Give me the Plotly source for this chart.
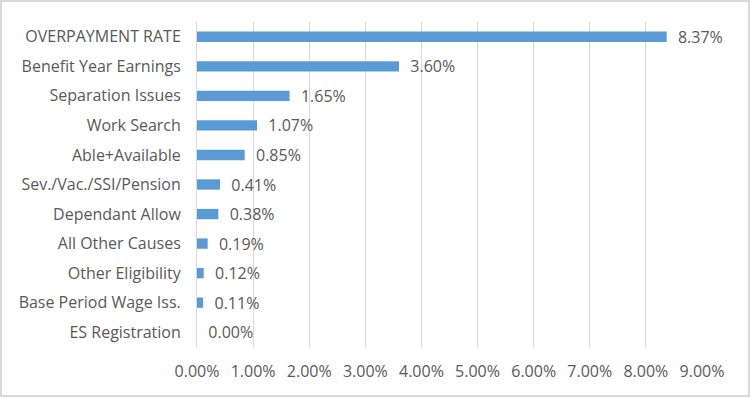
import plotly.graph_objects as go

categories = ["OVERPAYMENT RATE", "Benefit Year Earnings", "Separation Issues", "Work Search",
              "Able+Available", "Sev./Vac./SSI/Pension", "Dependant Allow", "All Other Causes",
              "Other Eligibility", "Base Period Wage Iss.", "ES Registration"]
values = [8.37, 3.60, 1.65, 1.07, 0.85, 0.41, 0.38, 0.19, 0.12, 0.11, 0.00]
tick_vals = [0, 1, 2, 3, 4, 5, 6, 7, 8, 9]
tick_text = ["0.00%", "1.00%", "2.00%", "3.00%", "4.00%", "5.00%", "6.00%", "7.00%", "8.00%", "9.00%"]

FONT = "Open Sans"
GRAY = "#595959"
FS = 16

fig = go.Figure(go.Bar(
    x=values, y=categories, orientation="h",
    marker=dict(color="#5B9BD5", line=dict(width=0)),
    width=0.35,
    text=[f"  {v:.2f}%" for v in values], textposition="outside",
    textfont=dict(family=FONT, size=FS, color=GRAY),
    constraintext="none",
    cliponaxis=False,
))

fig.update_layout(
    width=750, height=397,
    margin=dict(l=197, r=48, t=22, b=50, autoexpand=False),
    paper_bgcolor="white", plot_bgcolor="white",
    showlegend=False,
    font=dict(family=FONT, size=FS, color=GRAY),
    xaxis=dict(range=[0, 9], tickvals=tick_vals, ticktext=tick_text,
               showgrid=True, gridcolor="#D9D9D9", gridwidth=1, zeroline=False,
               showline=False, ticks="outside", ticklen=10, tickcolor="rgba(0,0,0,0)",
               tickfont=dict(family=FONT, size=FS, color=GRAY), fixedrange=True),
    yaxis=dict(categoryorder="array", categoryarray=categories[::-1],
               showgrid=False, showline=True, linecolor="#D9D9D9", linewidth=1,
               ticks="outside", ticklen=12, tickcolor="rgba(0,0,0,0)",
               tickfont=dict(family=FONT, size=FS, color=GRAY)),
)
fig.add_shape(type="rect", xref="paper", yref="paper",
              x0=-196/505, x1=1+47/505, y0=-49/324.5, y1=1+21/324.5,
              line=dict(color="#D9D9D9", width=2), layer="above")

fig.write_html("out.html", config={"displayModeBar": False},
               post_script="document.body.style.margin='0';document.body.style.overflow='hidden';")
